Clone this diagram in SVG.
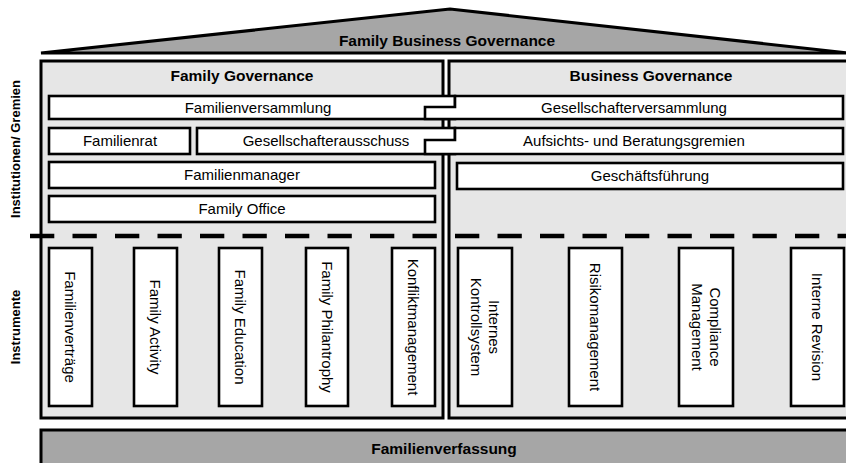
<svg xmlns="http://www.w3.org/2000/svg" width="846" height="463" viewBox="0 0 846 463">
<style>
.panel{fill:#e6e6e6;stroke:#000;stroke-width:3}
.dark{fill:#a6a6a6;stroke:#000;stroke-width:3}
.box{fill:#fff;stroke:#000;stroke-width:2.6}
.t{font-family:"Liberation Sans",Arial,sans-serif;font-size:15px;text-anchor:middle;fill:#000}
.b{font-weight:bold;font-size:15.5px}
.s{font-weight:bold;font-size:13px}
</style>
<rect width="846" height="463" fill="#fff"/>
<g id="roof">
<polygon class="dark" points="41,53 450,9 849,53"/>
<text class="t b" x="447" y="46">Family Business Governance</text>
</g>
<g id="family-governance">
<rect class="panel" x="41" y="61" width="402" height="357"/>
<text class="t b" x="242" y="81">Family Governance</text>
</g>
<g id="business-governance">
<rect class="panel" x="449" y="61" width="402" height="357"/>
<text class="t b" x="651" y="81">Business Governance</text>
</g>
<g id="familienverfassung">
<rect class="dark" x="41" y="430" width="810" height="40"/>
<text class="t b" x="444" y="454">Familienverfassung</text>
</g>
<g id="label-institutionen">
<text class="t s" transform="translate(15,149) rotate(-90)" dy="4.6">Institutionen/ Gremien</text>
</g>
<g id="label-instrumente">
<text class="t s" transform="translate(15,327) rotate(-90)" dy="4.6">Instrumente</text>
</g>
<g id="familienversammlung">
<rect class="box" x="49" y="96" width="406" height="23"/>
<text class="t" x="258" y="113">Familienversammlung</text>
</g>
<g id="gesellschafterversammlung">
<polygon class="box" points="455,96 843,96 843,119 425,119 425,107 455,107"/>
<text class="t" x="634" y="113">Gesellschafterversammlung</text>
</g>
<g id="familienrat">
<rect class="box" x="49" y="128" width="141" height="26"/>
<text class="t" x="120" y="146">Familienrat</text>
</g>
<g id="gesellschafterausschuss">
<rect class="box" x="197" y="128" width="258" height="26"/>
<text class="t" x="326" y="146">Gesellschafterausschuss</text>
</g>
<g id="aufsichtsgremien">
<polygon class="box" points="455,128 843,128 843,154 425,154 425,140 455,140"/>
<text class="t" x="634" y="146">Aufsichts- und Beratungsgremien</text>
</g>
<g id="familienmanager">
<rect class="box" x="49" y="162" width="386" height="26"/>
<text class="t" x="242" y="180">Familienmanager</text>
</g>
<g id="geschaeftsfuehrung">
<rect class="box" x="457" y="163" width="386" height="26"/>
<text class="t" x="650" y="181">Geschäftsführung</text>
</g>
<g id="family-office">
<rect class="box" x="49" y="196" width="386" height="26"/>
<text class="t" x="242" y="214">Family Office</text>
</g>
<g id="connectors">
<line x1="30" y1="236" x2="846" y2="236" stroke="#000" stroke-width="4.5" stroke-dasharray="24.3 18.2"/>
</g>
<g id="familienvertraege">
<rect class="box" x="49" y="248" width="43" height="158"/>
<text class="t" transform="translate(70.5,327) rotate(90)" dy="5.3">Familienverträge</text>
</g>
<g id="family-activity">
<rect class="box" x="134" y="248" width="43" height="158"/>
<text class="t" transform="translate(155.5,327) rotate(90)" dy="5.3">Family Activity</text>
</g>
<g id="family-education">
<rect class="box" x="219" y="248" width="43" height="158"/>
<text class="t" transform="translate(240.5,327) rotate(90)" dy="5.3">Family Education</text>
</g>
<g id="family-philantrophy">
<rect class="box" x="306" y="248" width="42" height="158"/>
<text class="t" transform="translate(327,327) rotate(90)" dy="5.3">Family Philantrophy</text>
</g>
<g id="konfliktmanagement">
<rect class="box" x="392" y="248" width="43" height="158"/>
<text class="t" transform="translate(413.5,327) rotate(90)" dy="5.3">Konfliktmanagement</text>
</g>
<g id="internes-kontrollsystem">
<rect class="box" x="458" y="248" width="54" height="158"/>
<text class="t" transform="translate(485,327) rotate(90)"><tspan x="0" dy="-4">Internes</tspan><tspan x="0" dy="18">Kontrollsystem</tspan></text>
</g>
<g id="risikomanagement">
<rect class="box" x="569" y="248" width="53" height="158"/>
<text class="t" transform="translate(595.5,327) rotate(90)" dy="5.3">Risikomanagement</text>
</g>
<g id="compliance-management">
<rect class="box" x="679" y="248" width="54" height="158"/>
<text class="t" transform="translate(706,327) rotate(90)"><tspan x="0" dy="-4">Compliance</tspan><tspan x="0" dy="18">Management</tspan></text>
</g>
<g id="interne-revision">
<rect class="box" x="791" y="248" width="53" height="158"/>
<text class="t" transform="translate(817.5,327) rotate(90)" dy="5.3">Interne Revision</text>
</g>
</svg>
